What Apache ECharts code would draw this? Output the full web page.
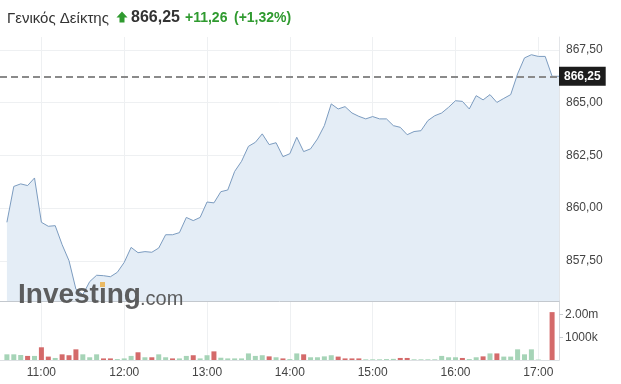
<!DOCTYPE html>
<html><head><meta charset="utf-8">
<script src="https://cdn.jsdelivr.net/npm/echarts@6/dist/echarts.min.js"></script>
<style>html,body{margin:0;padding:0;background:#fff}#c{width:621px;height:384px}</style>
</head><body><div id="c"></div>
<script>
const times = ['10:35','10:40','10:45','10:50','10:55','11:00','11:05','11:10','11:15','11:20','11:25','11:30','11:35','11:40','11:45','11:50','11:55',
'12:00','12:05','12:10','12:15','12:20','12:25','12:30','12:35','12:40','12:45','12:50','12:55',
'13:00','13:05','13:10','13:15','13:20','13:25','13:30','13:35','13:40','13:45','13:50','13:55',
'14:00','14:05','14:10','14:15','14:20','14:25','14:30','14:35','14:40','14:45','14:50','14:55',
'15:00','15:05','15:10','15:15','15:20','15:25','15:30','15:35','15:40','15:45','15:50','15:55',
'16:00','16:05','16:10','16:15','16:20','16:25','16:30','16:35','16:40','16:45','16:50','16:55',
'17:00','17:05','17:10','17:15'];
const prices = [859.33,861.03,861.15,861.07,861.43,859.33,859.14,859.17,858.27,857.51,856.16,855.90,856.52,856.82,856.80,856.75,856.96,
857.43,858.14,857.89,857.94,857.91,858.11,858.74,858.74,858.84,859.56,859.41,859.56,
860.29,860.25,860.78,860.86,861.74,862.22,862.93,863.12,863.52,863.01,863.10,862.44,
862.58,863.36,862.68,862.81,863.28,863.91,864.94,864.70,864.81,864.51,864.35,864.23,
864.34,864.23,864.23,863.91,863.83,863.48,863.63,863.67,864.15,864.38,864.51,864.78,
865.09,865.06,864.70,865.33,865.13,865.38,865.01,865.20,865.38,866.36,867.12,867.27,
867.19,867.19,866.25,866.25];
const volumesM = [0.25,0.25,0.22,0.18,0.18,0.56,0.15,0.09,0.25,0.21,0.47,0.25,0.12,0.25,0.07,0.07,0.04,
0.07,0.18,0.34,0.12,0.12,0.25,0.12,0.07,0.07,0.18,0.21,0.07,
0.21,0.38,0.10,0.07,0.07,0.07,0.29,0.18,0.21,0.16,0.12,0.07,
0.04,0.29,0.25,0.12,0.12,0.16,0.21,0.15,0.07,0.07,0.07,0.03,
0.03,0.03,0.04,0.05,0.09,0.09,0.03,0.03,0.03,0.03,0.18,0.12,
0.12,0.09,0.04,0.12,0.16,0.29,0.29,0.15,0.15,0.47,0.25,0.47,
0.02,0,2.11,0];
const volumeDir = ['u','u','u','d','u','d','d','u','d','d','d','u','u','u','d','d','u',
'u','u','d','u','d','u','u','d','u','u','d','u',
'u','d','u','u','u','u','u','u','u','d','u','d',
'u','u','d','u','u','u','u','d','d','d','d','u',
'u','u','u','u','d','d','u','u','u','u','u','u',
'u','d','u','u','d','u','d','u','u','u','u','u',
'u','u','d','u'];
const priceTicks = [857.5, 860, 862.5, 865, 867.5];
const hourTicks = ['11:00','12:00','13:00','14:00','15:00','16:00','17:00'];
const volumeTicks = [1000000, 2000000];
const volumeTickLabels = ['1000k', '2.00m'];
const lastPrice = 866.25;
const titleName = 'Γενικός Δείκτης';
const titleLast = '866,25';
const titleChange = '+11,26';
const titlePct = '(+1,32%)';

const toMin = t => { const p = t.split(':').map(Number); return p[0]*60 + p[1]; };
const fmtMin = v => { const h = Math.floor(v/60), m = Math.round(v%60); return h + ':' + (m < 10 ? '0' : '') + m; };
const fmtPrice = v => v.toFixed(2).replace('.', ',');
const hourMins = hourTicks.map(toMin);
const xMin = toMin('10:30'), xMax = toMin('17:15');
const GREEN = '#2f9a2f';
const FONT = '"Liberation Sans", Arial, sans-serif';

const chart = echarts.init(document.getElementById('c'), null, {renderer: 'canvas'});
chart.setOption({
  animation: false,
  backgroundColor: '#fff',
  grid: [
    {left: 0, right: 62, top: 37, height: 264},
    {left: 0, right: 62, top: 301, height: 59}
  ],
  xAxis: [
    {type: 'value', gridIndex: 0, min: xMin, max: xMax,
     axisLine: {show: true, onZero: false, lineStyle: {color: '#c3c8ce', width: 1}},
     axisTick: {show: false, customValues: hourMins},
     axisLabel: {show: false, customValues: hourMins},
     splitLine: {show: true, lineStyle: {color: '#eef0f2'}}},
    {type: 'value', gridIndex: 1, min: xMin, max: xMax,
     axisLine: {show: true, onZero: false, lineStyle: {color: '#dde0e3'}},
     axisTick: {show: false, customValues: hourMins},
     axisLabel: {customValues: hourMins, formatter: v => fmtMin(v), color: '#444', fontSize: 12, fontFamily: FONT, margin: 7},
     splitLine: {show: true, lineStyle: {color: '#eef0f2'}}}
  ],
  yAxis: [
    {type: 'value', gridIndex: 0, position: 'right', min: 855.6, max: 868.11,
     axisLine: {show: true, lineStyle: {color: '#e3e5e8'}},
     axisTick: {show: false, customValues: priceTicks},
     axisLabel: {customValues: priceTicks, formatter: v => fmtPrice(v), color: '#444', fontSize: 12, fontFamily: FONT, margin: 7},
     splitLine: {show: true, lineStyle: {color: '#eef0f2'}}},
    {type: 'value', gridIndex: 1, position: 'right', min: 0, max: 2600000,
     axisLine: {show: true, lineStyle: {color: '#d5d8dc'}},
     axisTick: {show: true, customValues: volumeTicks, length: 4, lineStyle: {color: '#c8ccd0'}},
     axisLabel: {customValues: volumeTicks, formatter: v => volumeTickLabels[volumeTicks.indexOf(v)], color: '#444', fontSize: 12, fontFamily: FONT, margin: 6},
     splitLine: {show: false}}
  ],
  series: [
    {type: 'line', xAxisIndex: 0, yAxisIndex: 0, showSymbol: false, silent: true,
     data: times.map((t, i) => [toMin(t), prices[i]]),
     lineStyle: {color: '#7c9cc0', width: 1},
     areaStyle: {color: '#e4edf6', opacity: 1, origin: 'start'},
     z: 2,
     markLine: {silent: true, symbol: ['none', 'none'],
       lineStyle: {color: '#8a8a8a', width: 2, type: [7, 4]},
       label: {show: true, position: 'end', distance: 0, formatter: fmtPrice(lastPrice),
         backgroundColor: '#1c1c1c', color: '#fff', fontWeight: 'bold', fontSize: 12, fontFamily: FONT, padding: [4, 5, 3, 5]},
       data: [{yAxis: lastPrice}]}},
    {type: 'bar', xAxisIndex: 1, yAxisIndex: 1, barWidth: 5, silent: true,
     data: times.map((t, i) => ({value: [toMin(t), volumesM[i] * 1e6],
       itemStyle: {color: volumeDir[i] === 'u' ? '#a6d4b7' : '#d46a6a'}}))}
  ],
  graphic: [
    {type: 'text', left: 7, top: 11, style: {text: titleName, font: '15px ' + FONT, fill: '#333'}},
    {type: 'polygon', shape: {points: [[122, 11.5], [127.5, 17.5], [124.5, 17.5], [124.5, 22.5], [119.5, 22.5], [119.5, 17.5], [116.5, 17.5]]}, style: {fill: GREEN}},
    {type: 'text', left: 131, top: 10, style: {text: titleLast, font: 'bold 16px ' + FONT, fill: '#333'}},
    {type: 'text', left: 185, top: 11, style: {text: titleChange, font: 'bold 14px ' + FONT, fill: GREEN}},
    {type: 'text', left: 234, top: 11, style: {text: titlePct, font: 'bold 14px ' + FONT, fill: GREEN}},
    {type: 'text', left: 18, top: 281, z: 100, style: {text: 'Investing', font: 'bold 28px ' + FONT, fill: 'rgba(80,80,80,0.92)'}},
    {type: 'text', left: 140, top: 289, z: 100, style: {text: '.com', font: '20px ' + FONT, fill: 'rgba(80,80,80,0.92)'}},
    {type: 'rect', z: 101, shape: {x: 100, y: 282, width: 5, height: 5}, style: {fill: '#e9b964'}}
  ]
});
</script></body></html>
